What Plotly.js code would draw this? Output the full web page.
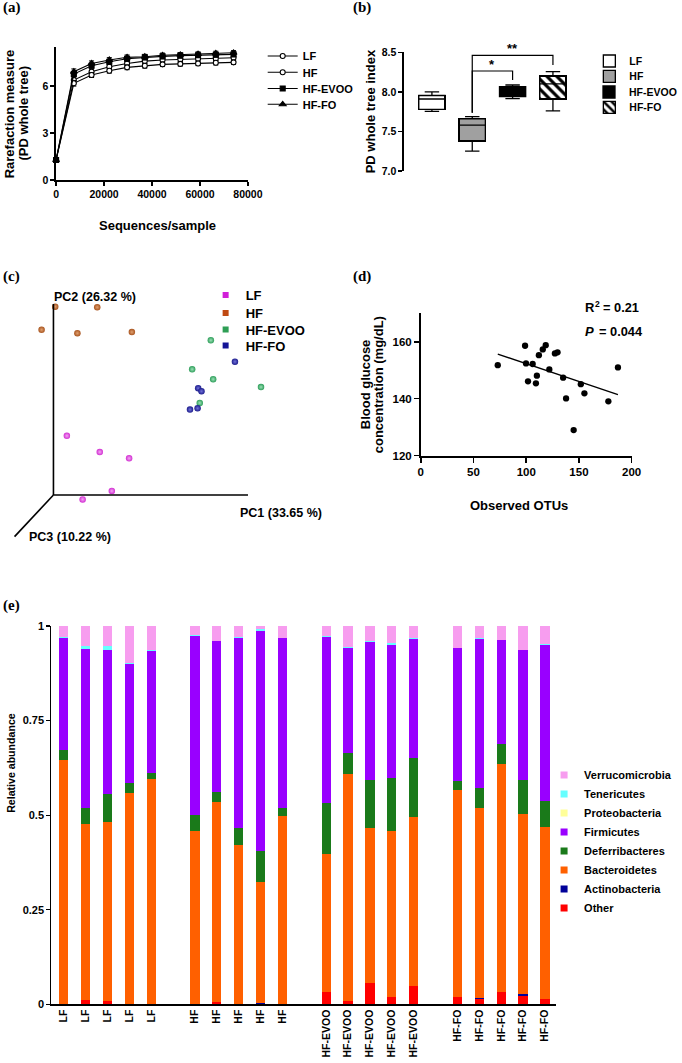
<!DOCTYPE html>
<html><head><meta charset="utf-8">
<script src="https://cdn.plot.ly/plotly-3.0.1.min.js"></script>
<style>html,body{margin:0;padding:0;background:#fff}#chart{width:682px;height:1063px}</style>
</head><body><div id="chart"></div><script>
// ---------- (a) rarefaction ----------
const rareDepth=[0,7400,14800,22200,29600,37000,44400,51800,59200,66600,74000];
const rareLF  =[1.28,6.39,6.92,7.24,7.45,7.60,7.67,7.71,7.75,7.77,7.81];
const rareHF  =[1.28,6.18,6.71,6.98,7.20,7.30,7.39,7.42,7.45,7.49,7.52];
const rareEVOO=[1.28,6.77,7.30,7.56,7.75,7.84,7.90,7.95,7.97,8.00,8.03];
const rareFO  =[1.28,6.92,7.45,7.67,7.84,7.88,7.97,8.00,8.05,8.09,8.13];
const rareSEM =[0.05,0.18,0.16,0.15,0.15,0.15,0.14,0.14,0.14,0.14,0.14];
const groups=['LF','HF','HF-EVOO','HF-FO'];
// ---------- (b) PD whole tree box plot ----------
const pdLower =[7.754,7.25,7.914,7.76];
const pdQ1    =[7.78,7.38,7.94,7.91];
const pdMedian=[7.91,7.58,8.00,8.10];
const pdQ3    =[7.954,7.66,8.066,8.20];
const pdUpper =[8.00,7.687,8.087,8.256];
const sigFrom=['HF','HF'];
const sigTo=['HF-EVOO','HF-FO'];
const sigLabel=['*','**'];
const sigBase=[7.736,7.736];
const sigTop=[8.264,8.46];
const sigEnd=[8.15,8.34];
// ---------- (c) PCoA (projected PC1 / PC2 positions) ----------
const pcLF_x  =[0.069,0.238,0.389,0.300,0.150];
const pcLF_y  =[0.310,0.225,0.192,0.021,-0.023];
const pcHF_x  =[0.009,0.225,-0.061,0.123,0.403];
const pcHF_y  =[0.986,0.983,0.865,0.847,0.853];
const pcEVOO_x=[0.809,0.713,0.821,1.067,0.752];
const pcEVOO_y=[0.810,0.658,0.606,0.565,0.482];
const pcFO_x  =[0.933,0.744,0.761,0.741,0.702];
const pcFO_y  =[0.698,0.559,0.543,0.454,0.447];
const pcAxisLabels=['PC1 (33.65 %)','PC2 (26.32 %)','PC3 (10.22 %)'];
// ---------- (d) OTUs vs glucose ----------
const otus   =[73,98.9,99.8,101.7,106.1,109.2,110.1,112,115.7,118.5,121.9,127.2,129.7,135,137.8,145,151.8,155.2,177.9,187];
const glucose=[151.8,158.6,152.4,146.1,152.2,145.4,148.1,155.3,157.3,158.8,150.3,155.9,156.3,147.4,140.1,129,145.1,141.9,139.1,151];
// ---------- (e) relative abundance ----------
const sampleLabels=['LF','LF','LF','LF','LF','HF','HF','HF','HF','HF','HF-EVOO','HF-EVOO','HF-EVOO','HF-EVOO','HF-EVOO','HF-FO','HF-FO','HF-FO','HF-FO','HF-FO'];
const phyla=['Other','Actinobacteria','Bacteroidetes','Deferribacteres','Firmicutes','Proteobacteria','Tenericutes','Verrucomicrobia'];
const phyOther =[0.002,0.011,0.009,0.001,0.002, 0.001,0.006,0.002,0.001,0.001, 0.033,0.009,0.056,0.019,0.049, 0.019,0.014,0.033,0.023,0.014];
const phyActino=[0,0,0,0,0, 0,0,0,0.003,0, 0,0,0,0,0, 0,0.003,0,0.003,0];
const phyBact  =[0.643,0.466,0.474,0.558,0.593, 0.456,0.528,0.418,0.318,0.497, 0.364,0.599,0.409,0.440,0.447, 0.547,0.501,0.602,0.476,0.456];
const phyDef   =[0.028,0.041,0.072,0.026,0.017, 0.043,0.028,0.045,0.083,0.020, 0.136,0.056,0.129,0.138,0.154, 0.025,0.053,0.053,0.091,0.068];
const phyFirm  =[0.294,0.421,0.381,0.314,0.321, 0.474,0.398,0.504,0.582,0.449, 0.438,0.279,0.365,0.354,0.316, 0.350,0.395,0.274,0.343,0.413];
const phyProteo=[0.001,0,0,0,0, 0,0,0,0,0, 0,0,0,0,0, 0,0,0,0,0];
const phyTen   =[0.004,0.008,0.011,0.002,0.003, 0.002,0.001,0.002,0.006,0.001, 0.002,0.001,0.001,0.004,0.001, 0.001,0.001,0.001,0.001,0.001];
const phyVerr  =[0.029,0.053,0.053,0.099,0.064, 0.024,0.039,0.029,0.007,0.032, 0.027,0.056,0.040,0.045,0.034, 0.059,0.034,0.038,0.064,0.049];

// ================= drawing =================
const W=682,H=1063;
const FONT='Liberation Sans, Arial, Helvetica, sans-serif';
const SERIF='Liberation Serif, Times New Roman, serif';
const px=x=>x/W, py=y=>1-y/H;
const f=(size,extra)=>Object.assign({family:FONT,size:size,weight:700,color:'#000'},extra||{});
function ann(text,x,y,size,opts){return Object.assign({text:text,x:px(x),y:py(y),xref:'paper',yref:'paper',showarrow:false,font:f(size),xanchor:'center',yanchor:'middle'},opts||{});}
function ax(extra){return Object.assign({showgrid:false,zeroline:false,showline:true,linecolor:'#000',linewidth:1.6,ticks:'outside',ticklen:4,tickwidth:1.5,tickcolor:'#000',tickfont:f(11),fixedrange:true},extra);}
function leg(xText,yCenter,size){return {x:px(xText-36),xanchor:'left',y:py(yCenter),yanchor:'middle',bgcolor:'rgba(0,0,0,0)',borderwidth:0,font:f(size),itemwidth:30,tracegroupgap:0,itemclick:false,itemdoubleclick:false};}

const traces=[], shapes=[], annotations=[];
const layout={width:W,height:H,margin:{l:0,r:0,t:0,b:0},paper_bgcolor:'#fff',plot_bgcolor:'rgba(0,0,0,0)',
  showlegend:true,barmode:'stack',hovermode:false};

// ---- (a)
const rareSeries=[rareLF,rareHF,rareEVOO,rareFO];
const rareSym=['circle','circle','square','triangle-up'];
const rareFill=['#fff','#fff','#000','#000'];
const aLegY=[56,72.3,88.5,104.3];
groups.forEach((g,i)=>{
  const ln=i===0?'legend':'legend'+(i+1);
  traces.push({type:'scatter',mode:'lines+markers',name:g,x:rareDepth,y:rareSeries[i],xaxis:'x',yaxis:'y',legend:ln,cliponaxis:false,
    line:{color:'#000',width:1.1},marker:{symbol:rareSym[i],size:i===3?6:5,color:rareFill[i],line:{color:'#000',width:1.1}},
    error_y:{type:'data',array:rareSEM,visible:true,color:'#000',thickness:1,width:2.5}});
  layout[ln]=leg(303,aLegY[i],11);
});
layout.xaxis=ax({domain:[px(57),px(252)],range:[0,80000],tickvals:[0,20000,40000,60000,80000],tickformat:'d',anchor:'y',tickfont:f(10.5)});
layout.yaxis=ax({domain:[py(180),py(47)],range:[0,8.5],tickvals:[0,3,6],anchor:'x',tickfont:f(10.5)});
annotations.push(ann('Rarefaction measure',10,113.5,13,{textangle:-90}));
annotations.push(ann('(PD whole tree)',23.5,113.5,13,{textangle:-90}));
annotations.push(ann('Sequences/sample',160,225,13));

// ---- (b)
const boxFill=['#fff','#a0a0a0','#000','#fff'];
const bLegY=[61,76.3,92,107.3];
groups.forEach((g,i)=>{
  const ln='legend'+(5+i);
  const mk={color:boxFill[i],line:{color:'#000',width:1.3}};
  if(i===3){mk.pattern={shape:'\\',fgcolor:'#000',bgcolor:'#fff',size:7,solidity:0.45};}
  traces.push({type:'bar',name:g,x:[g],y:[pdQ3[i]-pdQ1[i]],base:[pdQ1[i]],width:0.65,xaxis:'x2',yaxis:'y2',legend:ln,marker:mk});
  layout[ln]=leg(635,bLegY[i],10.5);
});
groups.forEach((g,i)=>{
  traces.push({type:'box',name:g,x:[g],q1:[pdQ1[i]],median:[pdMedian[i]],q3:[pdQ3[i]],lowerfence:[pdLower[i]],upperfence:[pdUpper[i]],
    xaxis:'x2',yaxis:'y2',fillcolor:'rgba(0,0,0,0)',line:{color:'#000',width:1.3},width:0.65,whiskerwidth:0.55,boxpoints:false,showlegend:false});
});
layout.xaxis2=ax({domain:[px(410.7),px(582.5)],range:[-0.69,3.5],type:'category',categoryarray:groups,showline:false,ticks:'',showticklabels:false,anchor:'y2'});
layout.yaxis2=ax({domain:[py(171),py(52.3)],range:[7.0,8.5],tickvals:[7,7.5,8,8.5],tickformat:'.1f',anchor:'x2',tickfont:f(10.5)});
sigFrom.forEach((a,k)=>{
  const xa=groups.indexOf(a), xb=groups.indexOf(sigTo[k]);
  shapes.push({type:'path',xref:'x2',yref:'y2',path:`M${xa},${sigBase[k]} L${xa},${sigTop[k]} L${xb},${sigTop[k]} L${xb},${sigEnd[k]}`,line:{color:'#000',width:1.2}});
  annotations.push({text:sigLabel[k],xref:'x2',yref:'y2',x:(xa+xb)/2,y:sigTop[k],yanchor:'bottom',xanchor:'center',showarrow:false,font:f(13),yshift:-3});
});
annotations.push(ann('PD whole tree index',376.7,111.7,13,{textangle:-90}));

// ---- (c)
const pcX=[pcLF_x,pcHF_x,pcEVOO_x,pcFO_x], pcY=[pcLF_y,pcHF_y,pcEVOO_y,pcFO_y];
const pcCol=['#d22fd2','#a8541e','#2e9e5a','#1c1c8c'];
const pcLight=['#f3a6f3','#e0a070','#9be0b6','#7070d8'];
const pcLegCol=['#d11fd8','#c04a12','#2e9e55','#141496'];
const cLegY=[295,313,329.5,345.5];
groups.forEach((g,i)=>{
  traces.push({type:'scatter',mode:'markers',name:g,x:pcX[i],y:pcY[i],xaxis:'x3',yaxis:'y3',showlegend:false,cliponaxis:false,
    marker:{size:6.5,color:pcCol[i],gradient:{type:'radial',color:pcLight[i]},line:{width:0}}});
  const ln='legend'+(9+i);
  traces.push({type:'scatter',mode:'markers',name:g,x:[null],y:[null],xaxis:'x3',yaxis:'y3',legend:ln,marker:{symbol:'square',size:6,color:pcLegCol[i]}});
  layout[ln]=leg(245,cLegY[i],13);
});
layout.xaxis3={domain:[px(4.9),px(281.7)],range:[-0.25,1.15],visible:false,fixedrange:true,anchor:'y3'};
layout.yaxis3={domain:[py(552.3),py(294.45)],range:[-0.3,1.05],visible:false,fixedrange:true,anchor:'x3'};
const pcEnds=[[1,0],[0,1],[-0.2,-0.218]];
pcEnds.forEach(e=>shapes.push({type:'line',xref:'x3',yref:'y3',x0:0,y0:0,x1:e[0],y1:e[1],line:{color:'#000',width:1.6}}));
annotations.push({text:pcAxisLabels[1],xref:'x3',yref:'y3',x:-0.006,y:1.037,xanchor:'left',yanchor:'middle',showarrow:false,font:f(12.5)});
annotations.push({text:pcAxisLabels[0],xref:'x3',yref:'y3',x:0.949,y:-0.094,xanchor:'left',yanchor:'middle',showarrow:false,font:f(12.5)});
annotations.push({text:pcAxisLabels[2],xref:'x3',yref:'y3',x:-0.138,y:-0.22,xanchor:'left',yanchor:'middle',showarrow:false,font:f(12.5)});

// ---- (d)
traces.push({type:'scatter',mode:'markers',x:otus,y:glucose,xaxis:'x4',yaxis:'y4',showlegend:false,cliponaxis:false,marker:{size:6.3,color:'#000'}});
(function(){
  const n=otus.length, mx=otus.reduce((a,b)=>a+b,0)/n, my=glucose.reduce((a,b)=>a+b,0)/n;
  let sxy=0,sxx=0; otus.forEach((x,i)=>{sxy+=(x-mx)*(glucose[i]-my);sxx+=(x-mx)*(x-mx);});
  const b=sxy/sxx, a=my-b*mx, x0=Math.min(...otus), x1=Math.max(...otus);
  traces.push({type:'scatter',mode:'lines',x:[x0,x1],y:[a+b*x0,a+b*x1],xaxis:'x4',yaxis:'y4',showlegend:false,line:{color:'#000',width:1.3}});
})();
layout.xaxis4=ax({domain:[px(427.7),px(642)],range:[0,200],tickvals:[0,50,100,150,200],anchor:'y4',ticklen:5,tickfont:f(11.5),linewidth:1.8});
layout.yaxis4=ax({domain:[py(455.7),py(313.3)],range:[120,170],tickvals:[120,140,160],anchor:'x4',ticklen:5,tickfont:f(11.5),linewidth:1.8});
annotations.push(ann('Blood glucose',371.7,384.5,13,{textangle:-90}));
annotations.push(ann('concentration (mg/dL)',385,384.5,13,{textangle:-90}));
annotations.push(ann('Observed OTUs',528,505.7,13));
annotations.push(ann('R',592.7,308,13,{xanchor:'left'}));
annotations.push(ann('2',602.6,303.5,8.5,{xanchor:'left'}));
annotations.push(ann('= 0.21',611,308,12.8,{xanchor:'left'}));
annotations.push(ann('P',593,331,13,{xanchor:'left',font:f(13,{style:'italic'})}));
annotations.push(ann('= 0.044',606.5,331,12.8,{xanchor:'left'}));

// ---- (e)
const phyVals=[phyOther,phyActino,phyBact,phyDef,phyFirm,phyProteo,phyTen,phyVerr];
const phyCol=['#ff0000','#000099','#ff6000','#1a7a1a','#9900ff','#ffff99','#66ffff','#f79def'];
const samplePos=sampleLabels.map((s,i)=>{const g=groups.indexOf(s); let k=0; for(let j=0;j<i;j++){if(sampleLabels[j]===s)k++;} return g*6+k;});
phyla.forEach((p,i)=>{
  traces.push({type:'bar',name:p,x:samplePos,y:phyVals[i],width:0.42,xaxis:'x5',yaxis:'y5',showlegend:false,marker:{color:phyCol[i],line:{width:0}}});
});
for(let i=phyla.length-1;i>=0;i--){
  traces.push({type:'scatter',mode:'markers',name:phyla[i],x:[null],y:[null],xaxis:'x5',yaxis:'y5',legend:'legend13',marker:{symbol:'square',size:7,color:phyCol[i]}});
}
layout.legend13=Object.assign(leg(589,841.5,11),{traceorder:'normal'});
layout.xaxis5=ax({domain:[px(52.3),px(565)],range:[-0.56,22.5],tickvals:samplePos,ticktext:sampleLabels,tickangle:-90,ticks:'',tickfont:f(10.5),anchor:'y5',linewidth:1.2});
layout.yaxis5=ax({domain:[py(1004.3),py(626)],range:[0,1],tickvals:[0,0.25,0.5,0.75,1],ticktext:['0','0.25','0.5','0.75','1'],anchor:'x5',linewidth:1.2,tickwidth:1.2,tickfont:f(11)});
annotations.push(ann('Relative abundance',11,763,10.6,{textangle:-90}));

// ---- panel labels
[['(a)',1,8],['(b)',357,8],['(c)',1,276],['(d)',357,276],['(e)',1,605]].forEach(l=>{
  annotations.push({text:l[0],x:px(l[1]),y:py(l[2]),xref:'paper',yref:'paper',xanchor:'left',yanchor:'middle',showarrow:false,font:{family:SERIF,size:15,weight:700,color:'#000'}});
});

layout.shapes=shapes; layout.annotations=annotations;
Plotly.newPlot('chart',traces,layout,{staticPlot:true,displayModeBar:false});
</script></body></html>
